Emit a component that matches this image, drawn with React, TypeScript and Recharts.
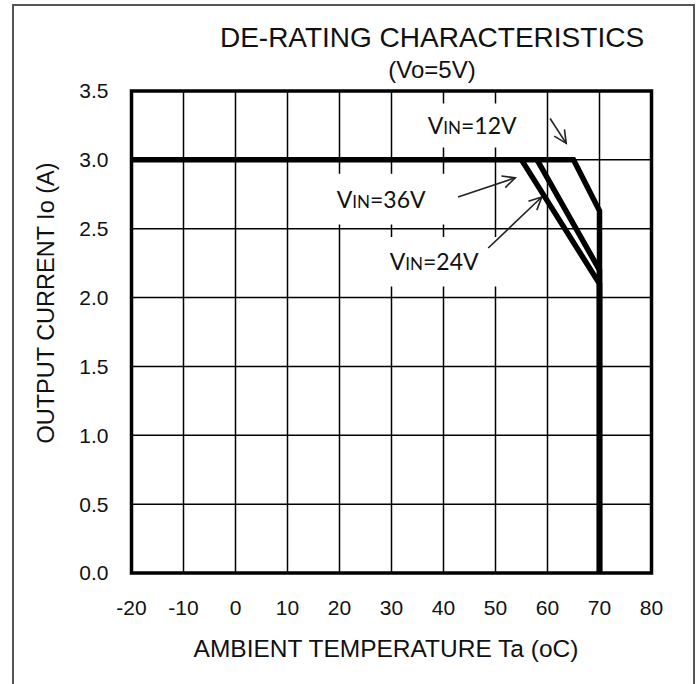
import React from 'react';
import { LineChart, Line, XAxis, YAxis, CartesianGrid, ReferenceArea, ReferenceLine, ReferenceDot } from 'recharts';

// Temperature ticks and current ticks
const xTicks = [-20, -10, 0, 10, 20, 30, 40, 50, 60, 70, 80];
const yTicks = [0, 0.5, 1.0, 1.5, 2.0, 2.5, 3.0, 3.5];

// De-rating curves (ambient temperature, output current)
const temp12V = [-20, 65, 70, 70];
const curr12V = [3.0, 3.0, 2.63, 0];
const temp24V = [58, 70, 70];
const curr24V = [3.0, 2.2, 0];
const temp36V = [55, 70, 70];
const curr36V = [3.0, 2.1, 0];

// Annotation labels: [text suffix, x, y]
const labelNames = ['12V', '36V', '24V'];
const labelX = [45.5, 28.0, 38.2];
const labelY = [3.246, 2.71, 2.26];
// label backgrounds [x1, x2, y1, y2]
const boxX1 = [31, 17.3, 21];
const boxX2 = [59, 49, 59.5];
const boxY1 = [3.09, 2.53, 2.08];
const boxY2 = [3.41, 2.90, 2.44];
// arrows: from (ax1, ay1) to (ax2, ay2)
const arrowX1 = [60.5, 42.8, 48.6];
const arrowY1 = [3.30, 2.73, 2.36];
const arrowX2 = [63.6, 53.8, 58.9];
const arrowY2 = [3.12, 2.87, 2.73];

const toPts = (xs: number[], ys: number[]) => xs.map((x, i) => ({ x, y: ys[i] }));

const TXT = '#111';
const FONT = '"Liberation Sans", Arial, sans-serif';

const Arrow = (p: any) => {
  const { x1, y1, x2, y2 } = p;
  const a = Math.atan2(y2 - y1, x2 - x1);
  const L = 14;
  const w = 0.45;
  const ax = x2 - L * Math.cos(a - w);
  const ay = y2 - L * Math.sin(a - w);
  const bx = x2 - L * Math.cos(a + w);
  const by = y2 - L * Math.sin(a + w);
  return (
    <g>
      <line x1={x1} y1={y1} x2={x2} y2={y2} stroke="#222" strokeWidth={1.6} />
      <polyline points={`${ax},${ay} ${x2},${y2} ${bx},${by}`} fill="none" stroke="#222" strokeWidth={1.6} />
    </g>
  );
};

const makeLabel = (suffix: string) => (p: any) => (
  <text x={p.cx} y={p.cy + 8} textAnchor="middle" fill={TXT}
    style={{ fontFamily: 'Lato, "Open Sans", sans-serif' }}>
    <tspan fontSize={23}>V</tspan>
    <tspan fontSize={17}>IN</tspan>
    <tspan fontSize={23}>={suffix}</tspan>
  </text>
);

export default function App() {
  return (
    <div style={{ position: 'absolute', left: 0, top: 0, width: 699, height: 684, background: '#fff', overflow: 'hidden' }}>
      <svg width={699} height={684} style={{ position: 'absolute', left: 0, top: 0 }}>
        <rect x={13} y={5} width={681} height={700} fill="#fff" stroke="#555" strokeWidth={2} />
        <text x={432} y={47} textAnchor="middle" fontSize={28} fill={TXT} style={{ fontFamily: FONT }}>DE-RATING CHARACTERISTICS</text>
        <text x={432} y={78} textAnchor="middle" fontSize={24} fill={TXT} style={{ fontFamily: FONT }}>(Vo=5V)</text>
        <text x={386} y={657} textAnchor="middle" fontSize={24.5} fill={TXT} style={{ fontFamily: FONT }}>AMBIENT TEMPERATURE Ta (oC)</text>
        <text x={0} y={0} transform="translate(54,303) rotate(-90)" textAnchor="middle" fontSize={23.5} fill={TXT} style={{ fontFamily: FONT }}>OUTPUT CURRENT Io (A)</text>
      </svg>
      <div style={{ position: 'absolute', left: 0, top: 0 }}>
        <LineChart width={699} height={684} margin={{ top: 91, right: 47.5, bottom: 0, left: 0 }}>
          <CartesianGrid stroke="#000" strokeWidth={1.5} strokeOpacity={1} />
          <XAxis dataKey="x" type="number" domain={[-20, 80]} ticks={xTicks} height={111}
            axisLine={false} tickLine={false} tickSize={0} tickMargin={27} interval={0}
            tick={{ fill: TXT, fontSize: 21, fontFamily: FONT }} allowDataOverflow />
          <YAxis dataKey="y" type="number" domain={[0, 3.5]} ticks={yTicks} width={131.5}
            axisLine={false} tickLine={false} tickSize={0} tickMargin={23} interval={0}
            tickFormatter={(v: number) => v.toFixed(1)}
            tick={{ fill: TXT, fontSize: 21, fontFamily: FONT }} allowDataOverflow />
          {labelNames.map((n, i) => (
            <ReferenceArea key={'b' + n} x1={boxX1[i]} x2={boxX2[i]} y1={boxY1[i]} y2={boxY2[i]}
              fill="#fff" fillOpacity={1} stroke="none" />
          ))}
          {labelNames.map((n, i) => (
            <ReferenceLine key={'a' + n} segment={[{ x: arrowX1[i], y: arrowY1[i] }, { x: arrowX2[i], y: arrowY2[i] }]}
              shape={Arrow} />
          ))}
          {labelNames.map((n, i) => (
            <ReferenceDot key={'l' + n} x={labelX[i]} y={labelY[i]} r={0} shape={makeLabel(n)} />
          ))}
          <Line data={toPts(temp36V, curr36V)} dataKey="y" stroke="#000" strokeWidth={5.5} dot={false}
            isAnimationActive={false} type="linear" strokeLinejoin="miter" strokeLinecap="butt" />
          <Line data={toPts(temp24V, curr24V)} dataKey="y" stroke="#000" strokeWidth={5.5} dot={false}
            isAnimationActive={false} type="linear" strokeLinejoin="miter" strokeLinecap="butt" />
          <Line data={toPts(temp12V, curr12V)} dataKey="y" stroke="#000" strokeWidth={5.5} dot={false}
            isAnimationActive={false} type="linear" strokeLinejoin="miter" strokeLinecap="butt" />
          <ReferenceArea x1={-20} x2={80} y1={0} y2={3.5} fill="none" stroke="#000" strokeWidth={3.5} />
        </LineChart>
      </div>
    </div>
  );
}
